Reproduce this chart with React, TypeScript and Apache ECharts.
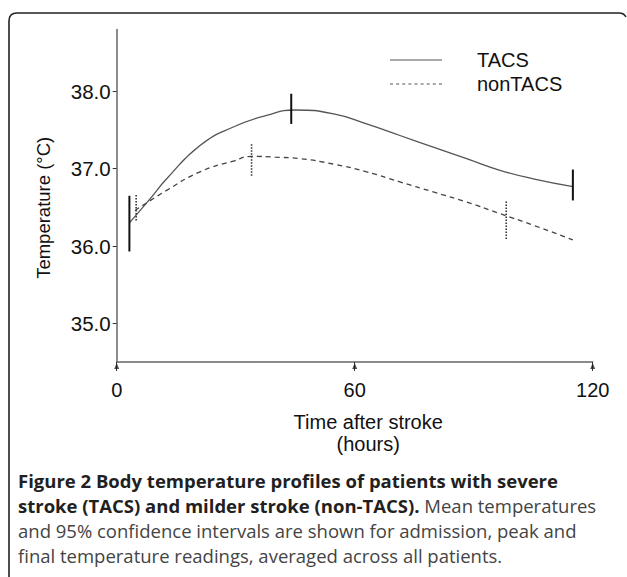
import React, { useEffect, useRef } from "react";
import * as echarts from "echarts";

const tacsHours = [3.2, 8.4, 12.6, 21, 29.4, 37.8, 45, 54.7, 63, 71.4, 79.8, 88.2, 96.6, 105, 115];
const tacsTemp = [36.3, 36.61, 36.87, 37.3, 37.54, 37.69, 37.76, 37.71, 37.58, 37.43, 37.28, 37.13, 36.98, 36.87, 36.77];

const nonHours = [4.6, 12.6, 21, 29.4, 34, 40, 46.3, 54.7, 63, 71.4, 79.8, 88.2, 96.6, 105, 115];
const nonTemp = [36.46, 36.72, 36.96, 37.1, 37.16, 37.15, 37.13, 37.06, 36.96, 36.83, 36.7, 36.57, 36.42, 36.27, 36.08];

const tacsBarHours = [3.2, 44, 115];
const tacsBarLow = [35.93, 37.58, 36.59];
const tacsBarHigh = [36.65, 37.97, 36.99];

const nonBarHours = [4.9, 34, 98.2];
const nonBarLow = [36.33, 36.91, 36.09];
const nonBarHigh = [36.68, 37.32, 36.59];

const yTicks = [35, 36, 37, 38];
const xTicks = [0, 60, 120];
const yMin = 34.5;
const yMax = 38.8;

const captionLines = [
  [{ b: "Figure 2 Body temperature profiles of patients with severe" }],
  [{ b: "stroke (TACS) and milder stroke (non-TACS)." }, { r: " Mean temperatures" }],
  [{ r: "and 95% confidence intervals are shown for admission, peak and" }],
  [{ r: "final temperature readings, averaged across all patients." }],
];

export default function App() {
  const ref = useRef<HTMLDivElement>(null);
  useEffect(() => {
    document.body.style.margin = "0";
    if (!ref.current) return;
    echarts.graphic.registerShape(
      "frameShape",
      echarts.graphic.extendPath("M 9 577 L 9 21 Q 9 13 17 13 L 619 13 Q 624 13 626 17", {})
    );
    const chart = echarts.init(ref.current, undefined, { renderer: "svg" });
    const font = "Liberation Sans, Arial, sans-serif";
    const capFont = "Open Sans, sans-serif";

    const errBar = (hours: number[], lo: number[], hi: number[], dashed: boolean, name: string) => ({
      type: "custom",
      name: name + " CI",
      silent: true,
      data: hours.map((h, i) => [h, lo[i], hi[i]]),
      renderItem: (params: any, api: any) => {
        const p1 = api.coord([api.value(0), api.value(1)]);
        const p2 = api.coord([api.value(0), api.value(2)]);
        return {
          type: "line",
          shape: { x1: p1[0], y1: p1[1], x2: p2[0], y2: p2[1] },
          style: {
            stroke: dashed ? "#333" : "#111",
            lineWidth: dashed ? 1.6 : 2,
            lineDash: dashed ? [1.5, 1.5] : null,
          },
        };
      },
      z: 5,
    });

    const graphics: any[] = [
      {
        type: "frameShape",
        x: 0,
        y: 0,
        style: { fill: null, stroke: "#222", lineWidth: 1.6 },
        silent: true,
      },
    ];
    captionLines.forEach((line, i) => {
      const text = line
        .map((seg: any) => (seg.b ? `{b|${seg.b}}` : `{r|${seg.r}}`))
        .join("");
      graphics.push({
        type: "text",
        left: 18,
        top: 471 + i * 25,
        style: {
          text,
          rich: {
            b: { fontFamily: capFont, fontWeight: "bold", fontSize: 18.5, fill: "#231f20" },
            r: { fontFamily: capFont, fontSize: 18.5, fill: "#444" },
          },
        },
      });
    });

    const dots = [0, 6, 12, 18, 24, 30, 36, 42, 48]
      .map((s) => `M${s},0 L${Math.min(s + 3, 52)},0 L${Math.min(s + 3, 52)},1 L${s},1 Z`)
      .join(" ");

    chart.setOption({
      animation: false,
      grid: { left: 116.7, right: 34.3, top: 29.6, bottom: 215 },
      legend: {
        orient: "vertical",
        left: 390,
        top: 50,
        padding: 0,
        itemWidth: 52,
        itemHeight: 14,
        itemGap: 4,
        textStyle: { fontFamily: font, fontSize: 20, lineHeight: 20, color: "#111", padding: [0, 0, 0, 30] },
        data: [
          { name: "TACS", icon: "path://M0,0 L52,0 L52,1 L0,1 Z", itemStyle: { color: "#555" } },
          { name: "nonTACS", icon: "path://" + dots, itemStyle: { color: "#555" } },
        ],
      },
      xAxis: {
        type: "value",
        min: 0,
        max: 120,
        interval: 60,
        name: "Time after stroke\n(hours)",
        nameLocation: "middle",
        nameGap: 49,
        nameTextStyle: { fontFamily: font, fontSize: 20, color: "#111", lineHeight: 22, padding: [0, 0, 0, 27] },
        axisLine: { lineStyle: { color: "#666", width: 1.5 } },
        axisTick: { show: true, inside: false, length: 9, lineStyle: { color: "#333", width: 1 } },
        axisLabel: { fontFamily: font, fontSize: 20, color: "#111", margin: 18 },
        splitLine: { show: false },
      },
      yAxis: {
        type: "value",
        min: yMin,
        max: yMax,
        name: "Temperature (°C)",
        nameLocation: "middle",
        nameGap: 64,
        nameTextStyle: { fontFamily: font, fontSize: 18.5, color: "#111", padding: [0, 24, 0, 0] },
        axisLine: { show: true, lineStyle: { color: "#666", width: 1.5 } },
        axisTick: { show: true, length: 4, customValues: yTicks, lineStyle: { color: "#333" } },
        axisLabel: {
          fontFamily: font,
          fontSize: 20.5,
          color: "#111",
          margin: 6,
          customValues: yTicks,
          formatter: (v: number) => v.toFixed(1),
        },
        splitLine: { show: false },
      },
      series: [
        {
          name: "TACS",
          type: "line",
          data: tacsHours.map((h, i) => [h, tacsTemp[i]]),
          smooth: true,
          symbol: "none",
          lineStyle: { color: "#555", width: 1.3 },
          itemStyle: { color: "#555" },
          z: 3,
        },
        {
          name: "nonTACS",
          type: "line",
          data: nonHours.map((h, i) => [h, nonTemp[i]]),
          smooth: true,
          symbol: "none",
          lineStyle: { color: "#444", width: 1.3, type: [5, 4] },
          itemStyle: { color: "#444" },
          z: 3,
        },
        errBar(tacsBarHours, tacsBarLow, tacsBarHigh, false, "TACS"),
        errBar(nonBarHours, nonBarLow, nonBarHigh, true, "nonTACS"),
        {
          name: "ticks",
          type: "scatter",
          silent: true,
          clip: false,
          data: xTicks.map((t) => [t, yMin]),
          symbol: "triangle",
          symbolSize: [5, 6],
          symbolOffset: [0, 4],
          itemStyle: { color: "#222" },
          z: 6,
        },
      ],
      graphic: graphics,
    });
    return () => chart.dispose();
  }, []);
  return <div ref={ref} style={{ width: 627, height: 577 }} />;
}
